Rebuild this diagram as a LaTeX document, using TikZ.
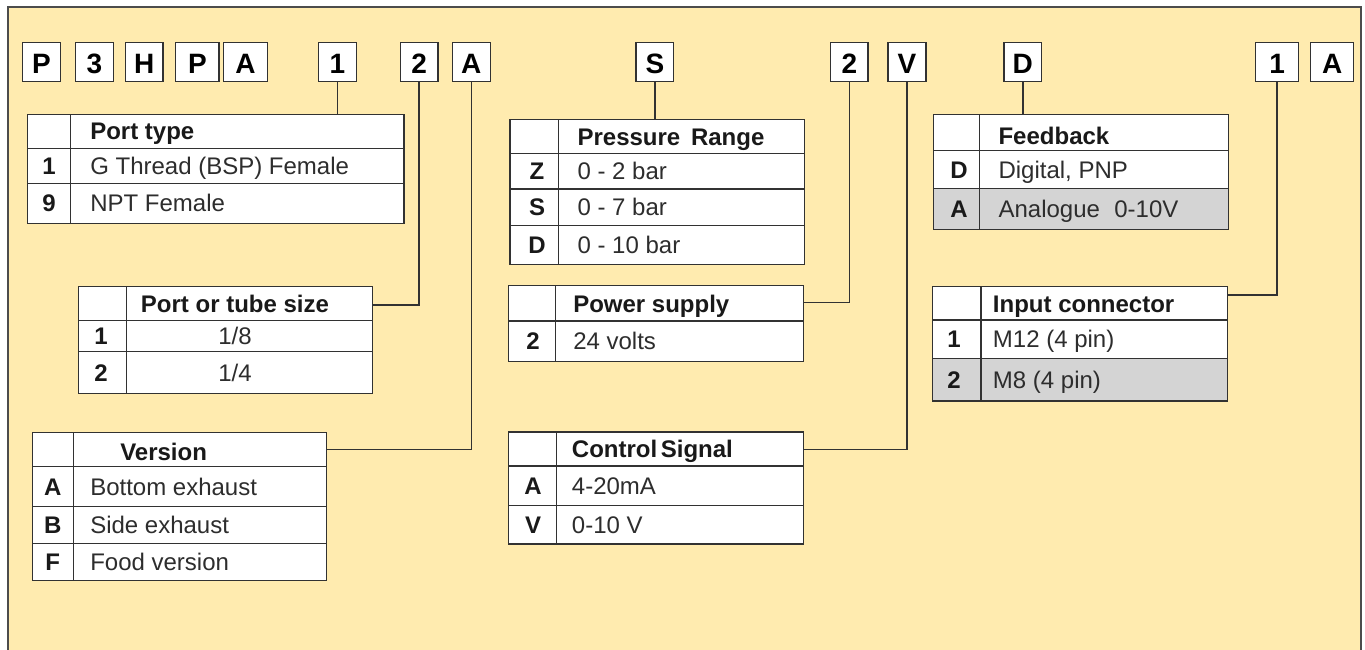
\documentclass[tikz,border=0pt]{standalone}
\usepackage{fontspec}
\setmainfont{Liberation Sans}
\definecolor{bgyellow}{RGB}{255,235,175}
\definecolor{rowgrey}{RGB}{212,212,212}
\definecolor{linegrey}{RGB}{50,50,50}
\definecolor{txt}{RGB}{45,45,45}
\newcommand\tablebg[4]{\fill[white] (#1,#2) rectangle (#3,#4);}
\newcommand\tablelines[7]{%
  \draw[tblline] (#2,#3) rectangle (#4,#5);
  \draw[tblline] (#6,#3) -- (#6,#5);
  \foreach \yy in {#7} {\draw[tblline] (#2,\yy) -- (#4,\yy);}
  \coordinate (#1-nw) at (#2,#3);
  \coordinate (#1-se) at (#4,#5);
}
\tikzset{
  tblline/.style={draw=linegrey, line width=1.1pt},
  conn/.style={draw=linegrey, line width=1.1pt},
  codebox/.style={draw=linegrey, line width=1pt, fill=white, inner sep=0pt,
    font=\fontsize{21}{22}\selectfont\bfseries, text=black},
  hdr/.style={anchor=base west, inner sep=0pt, font=\fontsize{18}{20}\selectfont\bfseries, text=black!90},
  row/.style={anchor=base west, inner sep=0pt, font=\fontsize{18}{20}\selectfont, text=txt},
  key/.style={anchor=base, inner sep=0pt, font=\fontsize{18}{20}\selectfont\bfseries, text=black!90},
}
\begin{document}
\begin{tikzpicture}[x=0.75pt,y=-0.75pt]
\useasboundingbox (0,0) rectangle (1365,650);
% frame
\fill[bgyellow] (7.7,7) rectangle (1361,660);
\draw[draw=black!70, line width=1.5pt] (7.7,660) -- (7.7,7) -- (1361,7) -- (1361,660);

% code boxes
\newcommand\cbox[4]{\node[codebox, minimum width={(#3-#2)*0.75pt}, minimum height=29pt] (#1) at ({(#2+#3)/2},62) {};}
\cbox{b1}{22.7}{60.3}{} \cbox{b2}{75.7}{113.3}{} \cbox{b3}{125.3}{163}{}
\cbox{b4}{175.7}{219}{} \cbox{b5}{223.7}{267.3}{} \cbox{b6}{318.7}{356.3}{}
\cbox{b7}{400.3}{438}{} \cbox{b8}{452.3}{490.3}{} \cbox{b9}{636}{673.7}{}
\cbox{b10}{830.7}{868}{} \cbox{b11}{888}{926}{} \cbox{b12}{1004}{1041.6}{}
\cbox{b13}{1255.8}{1298.6}{} \cbox{b14}{1310.8}{1353.5}{}
\foreach \b/\t in {b1/P,b2/3,b3/H,b4/P,b5/A,b6/1,b7/2,b8/A,b9/S,b10/2,b11/V,b12/D,b13/1,b14/A}
  \node[anchor=base, inner sep=0pt, font=\fontsize{21}{22}\selectfont\bfseries] (\b t) at (\b.center |- 0,73) {\t};

% tables backgrounds
\tablebg{27.3}{114.3}{404}{223.3}
\tablebg{78.7}{286.7}{372.7}{393.3}
\tablebg{32.3}{432.3}{326.7}{580.7}
\tablebg{510}{119.7}{804.3}{264.3}
\tablebg{508.3}{285.7}{803.3}{361.3}
\tablebg{508.3}{432}{803.3}{544}
\tablebg{933.3}{114.7}{1228.3}{229.3}
\fill[rowgrey] (933.3,188.3) rectangle (1228.3,229.3);
\tablebg{932.7}{286.7}{1227.3}{401}
\fill[rowgrey] (932.7,358.3) rectangle (1227.3,401);

% table lines
\tablelines{t1}{27.3}{114.3}{404}{223.3}{70.7}{148.3,183.3}
\tablelines{t2}{78.7}{286.7}{372.7}{393.3}{126.7}{320.7,351.7}
\tablelines{t3}{32.3}{432.3}{326.7}{580.7}{73.3}{466.3,506.7,543.7}
\tablelines{t4}{510}{119.7}{804.3}{264.3}{558.3}{153.3,189,225.3}
\tablelines{t5}{508.3}{285.7}{803.3}{361.3}{555.7}{321}
\tablelines{t6}{508.3}{432}{803.3}{544}{556.7}{466,505.3}
\tablelines{t7}{933.3}{114.7}{1228.3}{229.3}{979.3}{150.7,188.3}
\tablelines{t8}{932.7}{286.7}{1227.3}{401}{981}{320,358.3}

% connector endpoints
\coordinate (c2) at (372.7,305);
\coordinate (c3) at (326.7,449.7);
\coordinate (c5) at (803.3,302.3);
\coordinate (c6) at (803.3,449.7);
\coordinate (c8) at (1227.3,295);

% connectors
\draw[conn] (b6.south) -- (b6.south |- t1-nw);
\draw[conn] (b7.south) |- (c2);
\draw[conn] (b8.south) |- (c3);
\draw[conn] (b9.south) -- (b9.south |- t4-nw);
\draw[conn] (b10.south) |- (c5);
\draw[conn] (b11.south) |- (c6);
\draw[conn] (b12.south) -- (b12.south |- t7-nw);
\draw[conn] (b13.south) |- (c8);

% T1 Port type
\node[hdr] (t1h) at (90,139.9) {Port type};
\node[key] (t1k1) at (49,174.4) {1};
\node[row] (t1r1) at (90,174.4) {G Thread (BSP) Female};
\node[key] (t1k2) at (49,211.9) {9};
\node[row] (t1r2) at (90,211.9) {NPT Female};

% T2 Port or tube size
\node[hdr, anchor=base] (t2h) at (235,312.3) {Port or tube size};
\node[key] (t2k1) at (101,344.8) {1};
\node[row, anchor=base] (t2r1) at (235,344.8) {1/8};
\node[key] (t2k2) at (101,381.1) {2};
\node[row, anchor=base] (t2r2) at (235,381.1) {1/4};

% T3 Version
\node[hdr] (t3h) at (120,460) {Version};
\node[key] (t3k1) at (52.8,495.1) {A};
\node[row] (t3r1) at (90,495.1) {Bottom exhaust};
\node[key] (t3k2) at (52.8,533.8) {B};
\node[row] (t3r2) at (90,533.8) {Side exhaust};
\node[key] (t3k3) at (52.8,570.8) {F};
\node[row] (t3r3) at (90,570.8) {Food version};

% T4 Pressure Range
\node[hdr] (t4h) at (577.3,145.1) {Pressure\hspace{0.45em}Range};
\node[key] (t4k1) at (537,179.8) {Z};
\node[row] (t4r1) at (577.3,179.8) {0 - 2 bar};
\node[key] (t4k2) at (537,215.8) {S};
\node[row] (t4r2) at (577.3,215.8) {0 - 7 bar};
\node[key] (t4k3) at (537,253.4) {D};
\node[row] (t4r3) at (577.3,253.4) {0 - 10 bar};

% T5 Power supply
\node[hdr] (t5h) at (573,312) {Power supply};
\node[key] (t5k1) at (533,349.8) {2};
\node[row] (t5r1) at (573,349.8) {24 volts};

% T6 Control Signal
\node[hdr] (t6h) at (571.7,457.6) {Control\hspace{0.15em}Signal};
\node[key] (t6k1) at (533,494.3) {A};
\node[row] (t6r1) at (571.7,494.3) {4-20mA};
\node[key] (t6k2) at (533,533.3) {V};
\node[row] (t6r2) at (571.7,533.3) {0-10 V};

% T7 Feedback
\node[hdr] (t7h) at (998.3,144.5) {Feedback};
\node[key] (t7k1) at (959,178.1) {D};
\node[row] (t7r1) at (998.3,178.1) {Digital, PNP};
\node[key] (t7k2) at (959,217.4) {A};
\node[row] (t7r2) at (998.3,217.4) {Analogue\hspace{0.6em}0-10V};

% T8 Input connector
\node[hdr] (t8h) at (992.7,312) {Input connector};
\node[key] (t8k1) at (954,347.8) {1};
\node[row] (t8r1) at (992.7,347.8) {M12 (4 pin)};
\node[key] (t8k2) at (954,388.3) {2};
\node[row] (t8r2) at (992.7,388.3) {M8 (4 pin)};
\end{tikzpicture}
\end{document}
